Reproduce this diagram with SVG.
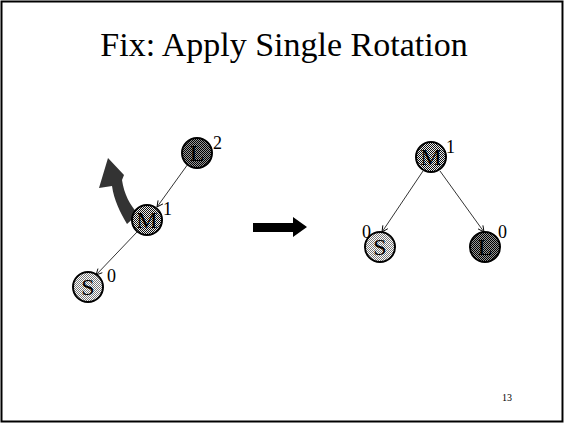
<svg xmlns="http://www.w3.org/2000/svg" width="565" height="424" viewBox="0 0 565 424">
<style>
text{font-family:"Liberation Serif","Times New Roman",serif;fill:#000}
.node{stroke:#000;stroke-width:2}
.lbl{font-size:24px;text-anchor:middle}
.num{font-size:18px}
.edge{stroke:#000;stroke-width:0.8;fill:none;marker-end:url(#ah)}
</style>
<defs>
<pattern id="pS" width="2" height="2" patternUnits="userSpaceOnUse">
<rect width="2" height="2" fill="#fff"/><rect width="1" height="1" fill="#777"/><rect x="1" y="1" width="1" height="1" fill="#777"/>
</pattern>
<pattern id="pM" width="2" height="2" patternUnits="userSpaceOnUse">
<rect width="2" height="2" fill="#eee"/><rect width="1" height="1" fill="#111"/><rect x="1" y="1" width="1" height="1" fill="#111"/>
</pattern>
<pattern id="pL" width="2" height="2" patternUnits="userSpaceOnUse">
<rect width="2" height="2" fill="#999"/><rect width="1" height="1" fill="#000"/><rect x="1" y="1" width="1" height="1" fill="#000"/>
</pattern>
<marker id="ah" markerWidth="8" markerHeight="8" refX="7" refY="4" orient="auto" markerUnits="userSpaceOnUse">
<path d="M1,1 L7,4 L1,7" fill="none" stroke="#000" stroke-width="0.9"/>
</marker>
</defs>
<rect x="1.5" y="1.5" width="561" height="420" fill="#fff" stroke="#000" stroke-width="2"/>
<line x1="563.5" y1="2" x2="563.5" y2="422" stroke="#888" stroke-width="1"/>
<text x="284" y="56" font-size="34" text-anchor="middle">Fix: Apply Single Rotation</text>
<text x="502" y="401" font-size="10">13</text>
<g id="connectors">
<line class="edge" x1="188" y1="164" x2="157" y2="207"/>
<line class="edge" x1="137" y1="232" x2="96" y2="275"/>
<line class="edge" x1="423" y1="171" x2="382" y2="232"/>
<line class="edge" x1="440" y1="171" x2="484" y2="232"/>
</g>
<g id="rotate-arrow">
<path d="M127,224 C120,212 114,200 112,186 L99,188 L108,158 L124,175 L122,180 C124,194 130,205 138,214 Z" fill="#333"/>
</g>
<g id="move-arrow">
<path d="M253,223 L293,223 L293,217 L307,227 L293,237 L293,232 L253,232 Z" fill="#000"/>
</g>
<g id="left-L">
<circle class="node" cx="197" cy="153" r="15" fill="url(#pL)"/>
<text class="lbl" x="197" y="161">L</text>
<text class="num" x="213" y="149">2</text>
</g>
<g id="left-M">
<circle class="node" cx="147" cy="220" r="15" fill="url(#pM)"/>
<text class="lbl" x="147" y="228">M</text>
<text class="num" x="163" y="215">1</text>
</g>
<g id="left-S">
<circle class="node" cx="88" cy="287" r="15" fill="url(#pS)"/>
<text class="lbl" x="88" y="295">S</text>
<text class="num" x="107" y="282">0</text>
</g>
<g id="right-M">
<circle class="node" cx="431" cy="157" r="15" fill="url(#pM)"/>
<text class="lbl" x="431" y="165">M</text>
<text class="num" x="446" y="153">1</text>
</g>
<g id="right-S">
<circle class="node" cx="380" cy="247" r="15" fill="url(#pS)"/>
<text class="lbl" x="380" y="255">S</text>
<text class="num" x="362" y="238">0</text>
</g>
<g id="right-L">
<circle class="node" cx="485" cy="247" r="15" fill="url(#pL)"/>
<text class="lbl" x="485" y="255">L</text>
<text class="num" x="498" y="238">0</text>
</g>
</svg>
